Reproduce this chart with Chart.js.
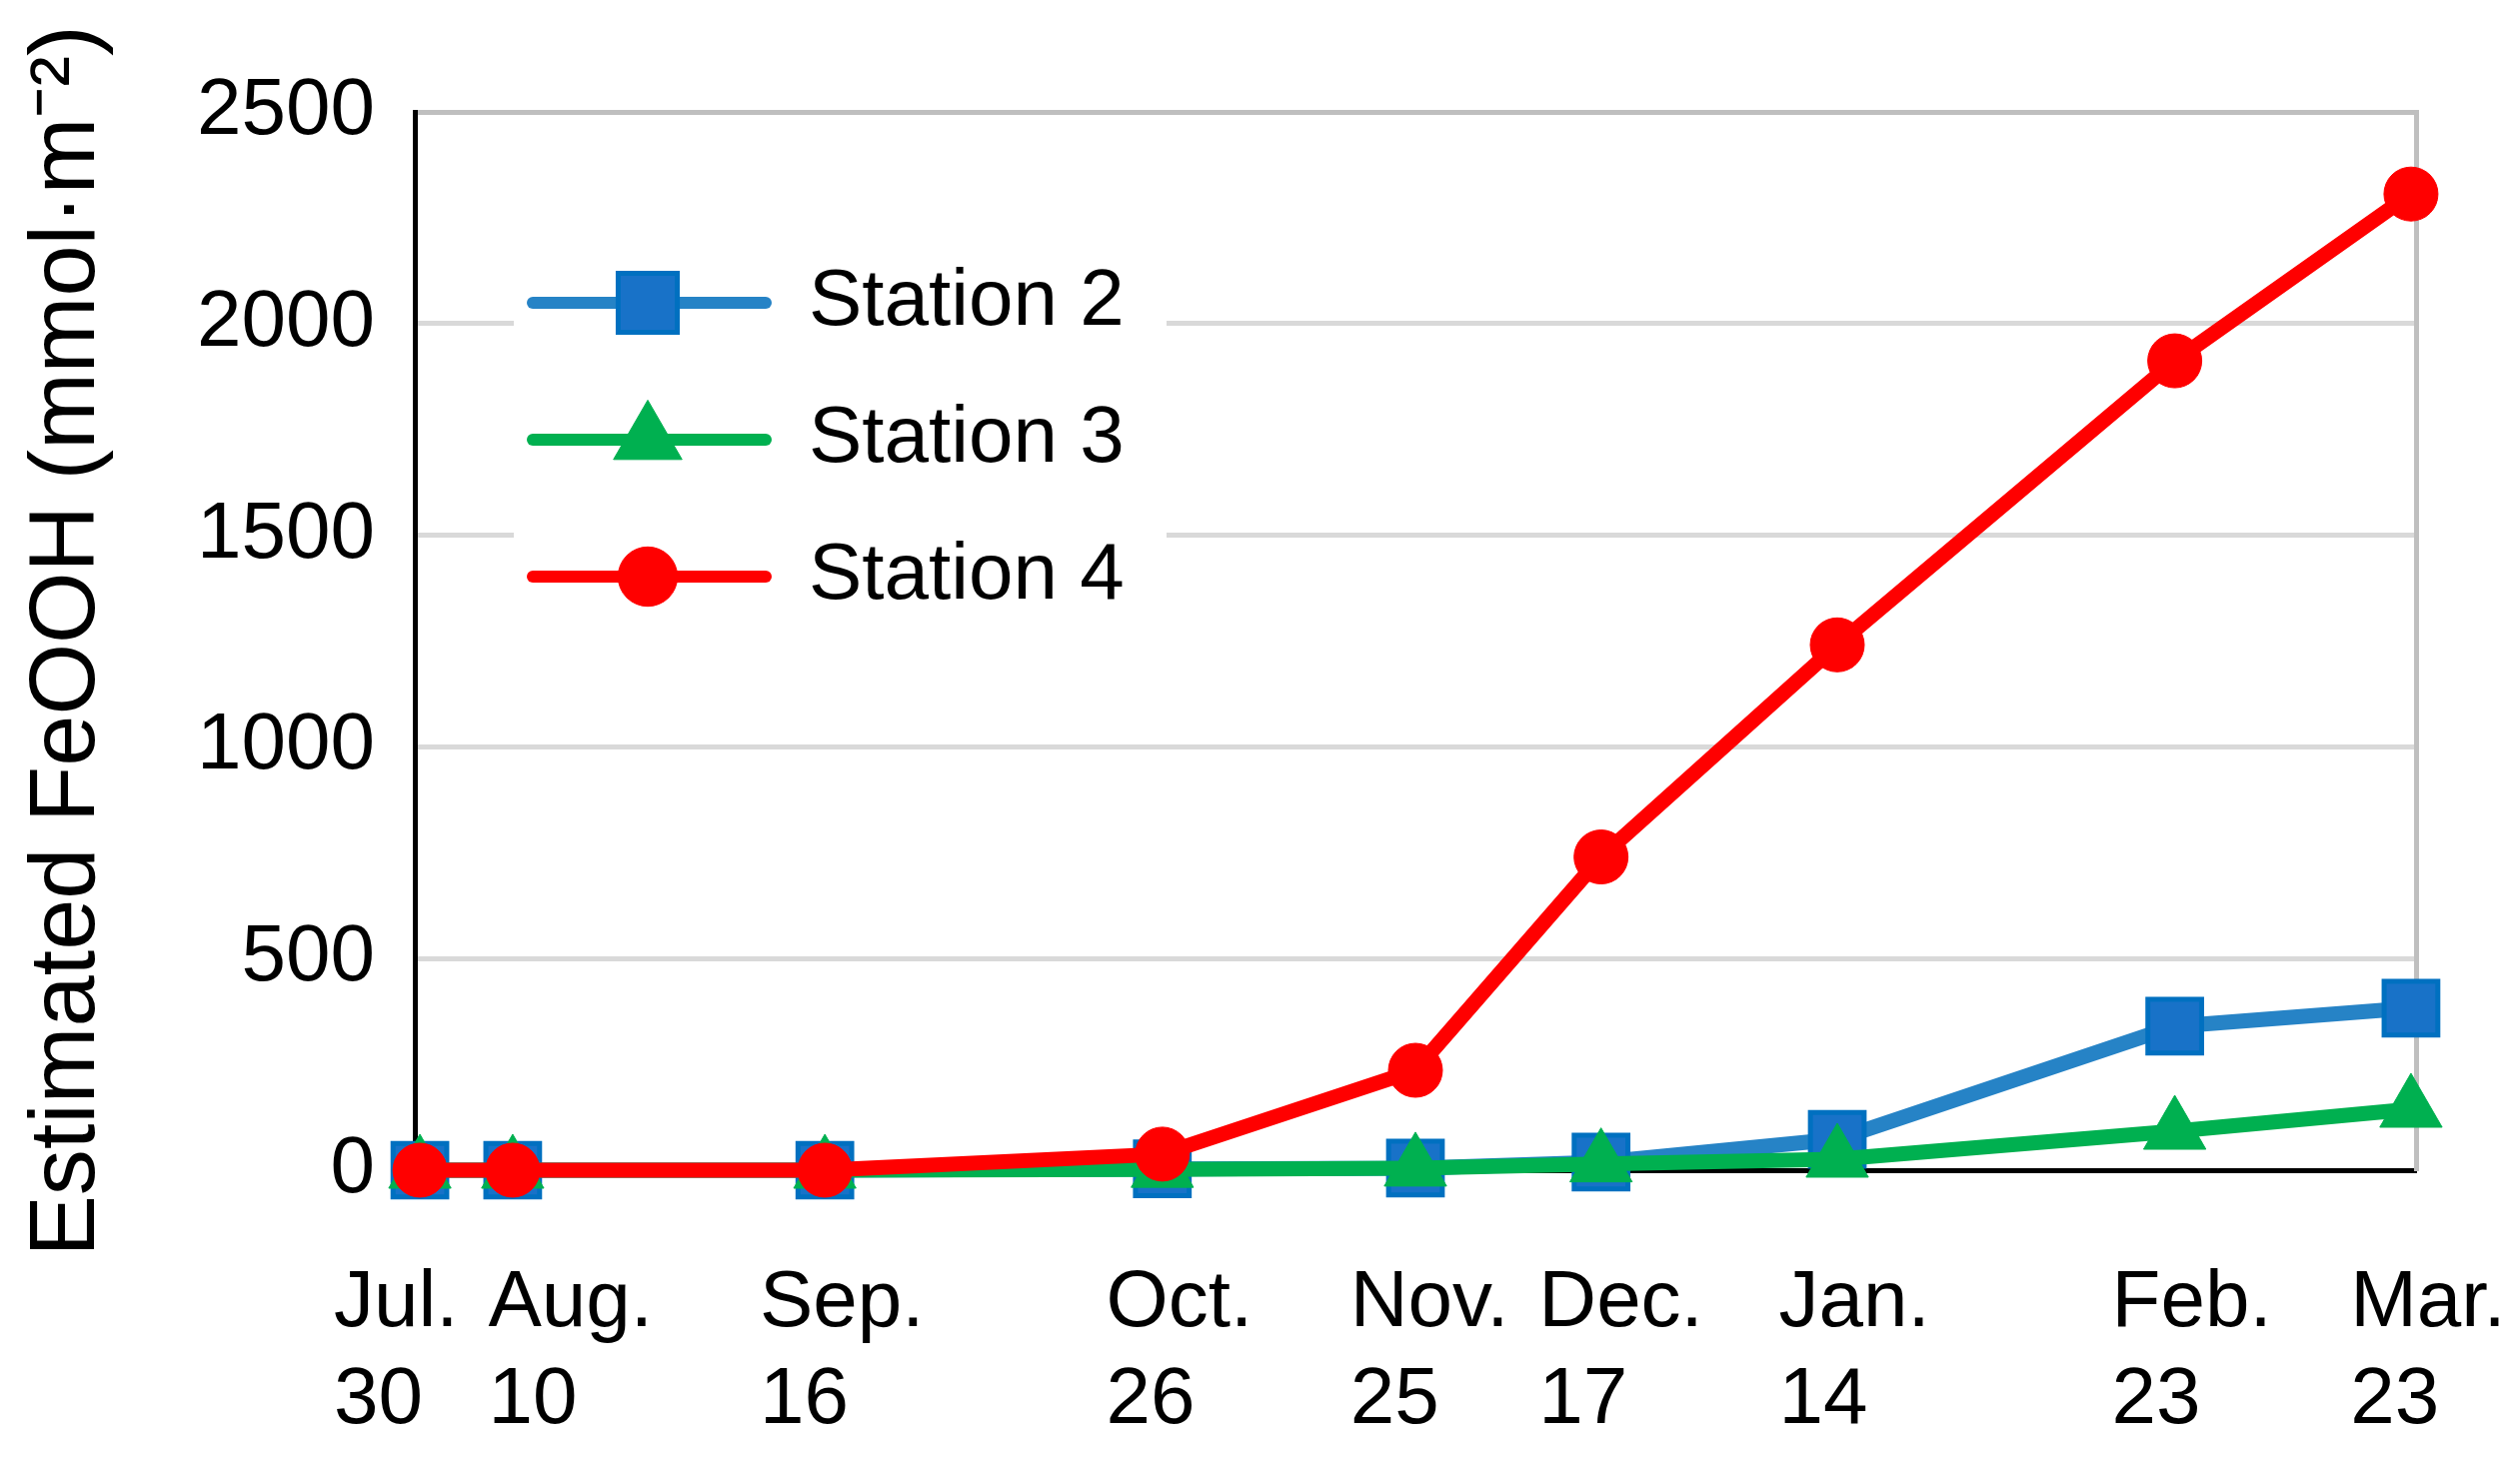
<!DOCTYPE html>
<html>
<head>
<meta charset="utf-8">
<script src="https://cdn.jsdelivr.net/npm/chart.js@4.4.1/dist/chart.umd.min.js"></script>
<style>
  html, body { margin: 0; padding: 0; background: #fff; }
  #wrap { width: 2521px; height: 1459px; position: relative; }
</style>
</head>
<body>
<div id="wrap"><canvas id="chart"></canvas></div>
<script>
// ── DATA ──
const dateLabels = [['Jul.', '30'], ['Aug.', '10'], ['Sep.', '16'], ['Oct.', '26'], ['Nov.', '25'],
                    ['Dec.', '17'], ['Jan.', '14'], ['Feb.', '23'], ['Mar.', '23']];
// days since Jul. 30
const dayOffsets = [0, 11, 48, 88, 118, 140, 168, 208, 236];
const station2 = [0, 0, 0, 3, 5, 19, 73, 340, 383];
const station3 = [0, 0, 0, 2, 5, 15, 26, 92, 144];
const station4 = [0, 0, 0, 38, 236, 740, 1241, 1912, 2306];
const yTicks = [0, 500, 1000, 1500, 2000, 2500];

// ── STYLE ──
const FONT = "'Liberation Sans', Arial, sans-serif";
const BLUE = '#2683c6';
const GREEN = '#00b050';
const RED = '#ff0000';

const toPoints = vals => vals.map((v, i) => ({ x: dayOffsets[i], y: v }));

// ── X LABELS (two lines, left aligned, spread apart where they collide) ──
const xLabelPlugin = {
  id: 'xLabels',
  afterDraw(chart) {
    const { ctx, chartArea, scales: { x } } = chart;
    ctx.save();
    ctx.font = `80px ${FONT}`;
    ctx.fillStyle = '#000';
    ctx.textAlign = 'left';
    ctx.textBaseline = 'alphabetic';
    const boxes = dateLabels.map((lines, i) => {
      const w = Math.max(...lines.map(t => ctx.measureText(t).width));
      return { lines, w, left: x.getPixelForValue(dayOffsets[i]) - w / 2 + 17 };
    });
    for (let i = 1; i < boxes.length; i++) {
      const prev = boxes[i - 1], cur = boxes[i];
      const overlap = prev.left + prev.w + 30 - cur.left;
      if (overlap > 0) { prev.left -= overlap / 2; cur.left += overlap / 2; }
    }
    const last = boxes[boxes.length - 1];
    last.left = Math.min(last.left, chart.width - 5 - last.w);
    boxes.forEach(b => b.lines.forEach((t, j) => {
      ctx.fillText(t, b.left, chartArea.bottom + 156 + j * 97);
    }));
    ctx.restore();
  }
};

// ── LEGEND INSIDE PLOT ──
const legendPlugin = {
  id: 'insideLegend',
  afterDatasetsDraw(chart) {
    const { ctx, chartArea: { left, top } } = chart;
    ctx.save();
    ctx.fillStyle = '#fff';
    ctx.fillRect(left + 99, top + 123, 653, 415);
    const items = chart.data.datasets.slice().sort((a, b) => a.legendIndex - b.legendIndex);
    items.forEach((ds, i) => {
      const y = top + 191 + i * 137;
      ctx.strokeStyle = ds.borderColor;
      ctx.lineWidth = 12;
      ctx.lineCap = 'round';
      ctx.beginPath();
      ctx.moveTo(left + 118, y);
      ctx.lineTo(left + 351, y);
      ctx.stroke();
      ctx.fillStyle = ds.pointBackgroundColor;
      ctx.strokeStyle = ds.pointBorderColor;
      ctx.lineWidth = ds.pointBorderWidth;
      ctx.lineCap = 'butt';
      Chart.helpers.drawPoint(ctx, {
        pointStyle: ds.pointStyle,
        radius: ds.pointRadius * 1.1,
        borderWidth: ds.pointBorderWidth,
        rotation: 0
      }, left + 233, y);
      ctx.fillStyle = '#000';
      ctx.font = `80px ${FONT}`;
      ctx.textAlign = 'left';
      ctx.textBaseline = 'middle';
      ctx.fillText(ds.label, left + 394, y);
    });
    ctx.restore();
  }
};

new Chart(document.getElementById('chart'), {
  type: 'line',
  data: {
    datasets: [
      {
        label: 'Station 2', legendIndex: 0, order: 2,
        data: toPoints(station2),
        borderColor: BLUE, borderWidth: 15,
        pointStyle: 'rect', pointRadius: 38,
        pointBackgroundColor: '#1872c8', pointBorderColor: '#0070c0', pointBorderWidth: 5,
      },
      {
        label: 'Station 3', legendIndex: 1, order: 1,
        data: toPoints(station3),
        borderColor: GREEN, borderWidth: 15,
        pointStyle: 'triangle', pointRadius: 36,
        pointBackgroundColor: GREEN, pointBorderColor: GREEN, pointBorderWidth: 1,
      },
      {
        label: 'Station 4', legendIndex: 2, order: 0,
        data: toPoints(station4),
        borderColor: RED, borderWidth: 15,
        pointStyle: 'circle', pointRadius: 27,
        pointBackgroundColor: RED, pointBorderColor: RED, pointBorderWidth: 1,
      }
    ]
  },
  options: {
    responsive: true,
    maintainAspectRatio: false,
    animation: false,
    devicePixelRatio: 1,
    layout: { padding: { top: 112, right: 104, bottom: 288, left: 0 } },
    elements: { line: { tension: 0 }, point: { hoverRadius: 38 } },
    datasets: { line: { clip: false } },
    plugins: { legend: { display: false }, tooltip: { enabled: false } },
    scales: {
      x: {
        type: 'linear',
        min: -0.6,
        max: 236.6,
        grid: { display: false, drawTicks: false },
        ticks: { display: false },
        border: { color: '#000', width: 5 }
      },
      y: {
        min: 0,
        max: 2500,
        afterBuildTicks: s => { s.ticks = yTicks.map(v => ({ value: v })); },
        afterFit: s => { s.width = 415; },
        grid: {
          drawTicks: false,
          lineWidth: 5,
          color: ctx => ctx.tick && ctx.tick.value === 2500 ? '#bfbfbf' : '#d9d9d9'
        },
        border: { color: '#000', width: 5 },
        ticks: {
          padding: 40,
          color: '#000',
          font: { family: FONT, size: 80 },
          callback: v => String(v)
        },
        title: {
          display: true,
          text: 'Estimated FeOOH (mmol·m⁻²)',
          color: '#000',
          font: { family: FONT, size: 92, lineHeight: 1.2 },
          padding: { top: 13, bottom: 0 }
        }
      },
      yR: {
        position: 'right',
        min: 0,
        max: 2500,
        grid: { display: false, drawTicks: false },
        ticks: { display: false },
        border: { color: '#bfbfbf', width: 5 }
      }
    }
  },
  plugins: [xLabelPlugin, legendPlugin]
});
</script>
</body>
</html>
